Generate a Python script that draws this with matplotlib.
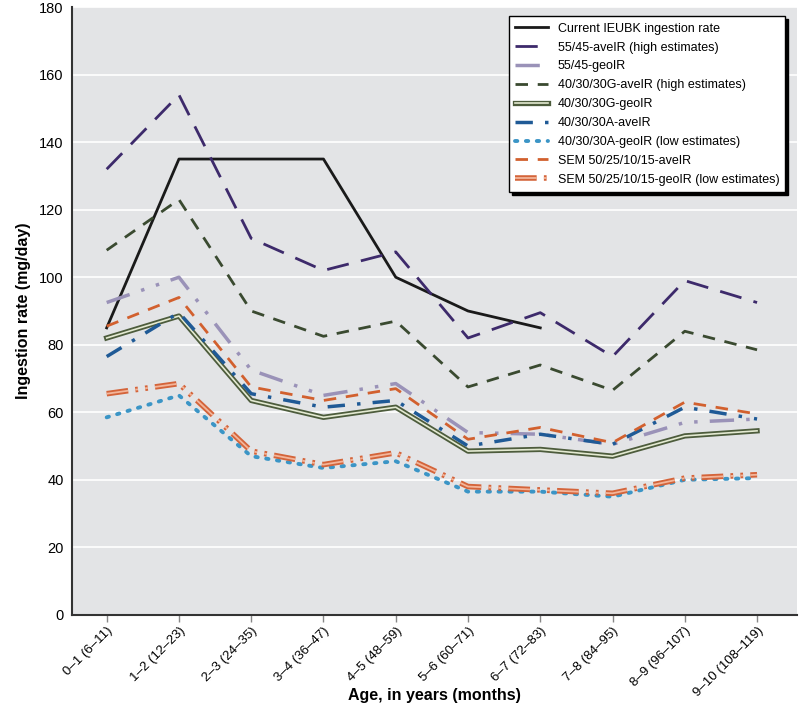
import matplotlib
matplotlib.use("Agg")
import matplotlib.pyplot as plt
import matplotlib.patheffects as pe

plt.rcParams["font.family"] = ["Liberation Sans", "DejaVu Sans"]

# ---------------------------------------
# Data (mg/day)
# ---------------------------------------

age_labels = ["0\u20131 (6\u201311)", "1\u20132 (12\u201323)", "2\u20133 (24\u201335)",
              "3\u20134 (36\u201347)", "4\u20135 (48\u201359)", "5\u20136 (60\u201371)",
              "6\u20137 (72\u201383)", "7\u20138 (84\u201395)", "8\u20139 (96\u2013107)",
              "9\u201310 (108\u2013119)"]

ieubk = [85, 135, 135, 135, 100, 90, 85]
ave_55_45 = [132, 154, 111.5, 102, 107.5, 82, 89.5, 76.5, 99, 92.5]
geo_55_45 = [92.5, 100, 72.5, 65, 68.5, 54, 53.5, 50.5, 57, 58]
ave_g = [108, 123, 90, 82.5, 87, 67.5, 74, 66.5, 84, 78.5]
geo_g = [82, 88.5, 63.5, 58.5, 61.5, 48.5, 49, 47, 53, 54.5]
ave_a = [76.5, 89.5, 65.5, 61.5, 63.5, 50, 53.5, 50.5, 61.5, 58]
geo_a = [58.5, 65, 47, 43.5, 45.5, 36.5, 36.5, 35, 40, 40.5]
ave_sem = [85.5, 94, 67.5, 63.5, 67, 52, 55.5, 51, 63, 59.5]
geo_sem = [65.5, 68.5, 48.5, 44.5, 48, 38, 37, 36, 40.5, 41.5]

x = list(range(len(age_labels)))

# ---------------------------------------
# Figure
# ---------------------------------------

fig = plt.figure(figsize=(8, 7.1), dpi=100)
ax = fig.add_axes([0.09, 0.134, 0.906, 0.856])
ax.set_facecolor("#e3e4e6")

ax.plot(x[:len(ieubk)], ieubk, color="#1a1a1a", lw=2,
        label="Current IEUBK ingestion rate")
ax.plot(x, ave_55_45, color="#3d2a6b", lw=2, dashes=(8, 4.5),
        label="55/45-aveIR (high estimates)")
ax.plot(x, geo_55_45, color="#9a92b8", lw=2.5, dashes=(7, 3.5, 1, 3.5, 1, 3.5),
        label="55/45-geoIR")
ax.plot(x, ave_g, color="#3a4a30", lw=2, dashes=(4.5, 3.5),
        label="40/30/30G-aveIR (high estimates)")
ax.plot(x, geo_g, color="#e4ead2", lw=1.2,
        path_effects=[pe.Stroke(linewidth=3.8, foreground="#4d5c3c"), pe.Normal()],
        label="40/30/30G-geoIR")
ax.plot(x, ave_a, color="#1f5a96", lw=2.5, dashes=(5, 3.5, 1, 3.5),
        label="40/30/30A-aveIR")
ax.plot(x, geo_a, color="#3b95c6", lw=2.8, dashes=(0.6, 2.2), dash_capstyle="round",
        label="40/30/30A-geoIR (low estimates)")
ax.plot(x, ave_sem, color="#d2602e", lw=2, dashes=(4.5, 3.5),
        label="SEM 50/25/10/15-aveIR")
ax.plot(x, geo_sem, color="#f3b59a", lw=1.3, dashes=(12, 4, 1.5, 4, 1.5, 4),
        path_effects=[pe.Stroke(linewidth=4, foreground="#d4643a"), pe.Normal()],
        label="SEM 50/25/10/15-geoIR (low estimates)")

ax.set_xlim(-0.48, 9.55)
ax.set_ylim(0, 180)
ax.set_yticks(range(0, 181, 20))
ax.yaxis.grid(True, color="white", lw=1.2)
ax.set_axisbelow(True)

ax.set_xticks(x)
ax.set_xticklabels(age_labels, rotation=45, ha="right", rotation_mode="anchor",
                   fontsize=9.5)
ax.tick_params(axis="y", length=0, labelsize=10.5, pad=6)
ax.tick_params(axis="x", length=5, width=1, color="#888888", pad=2)

for side in ["top", "right"]:
    ax.spines[side].set_visible(False)
for side in ["left", "bottom"]:
    ax.spines[side].set_color("#333333")
    ax.spines[side].set_linewidth(1.5)

ax.set_xlabel("Age, in years (months)", fontsize=11.5, fontweight="bold")
ax.xaxis.set_label_coords(0.5, -0.12)
ax.set_ylabel("Ingestion rate (mg/day)", fontsize=11.5, fontweight="bold", labelpad=6)

leg = ax.legend(loc="upper right", bbox_to_anchor=(0.993, 0.995), fontsize=9,
                frameon=True, fancybox=False, shadow={"color": "black", "alpha": 1},
                edgecolor="black", facecolor="white", framealpha=1,
                handlelength=2.6, labelspacing=0.55, borderpad=0.5)
leg.get_frame().set_linewidth(1)

plt.savefig("out.png", dpi=100)
plt.close()
